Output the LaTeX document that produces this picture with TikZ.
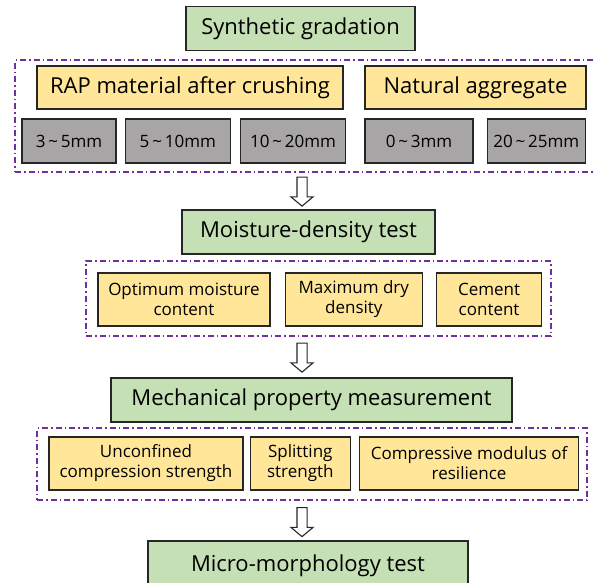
\documentclass[tikz,border=0pt]{standalone}
\usepackage{fontspec}
\setmainfont{Open Sans}
\usetikzlibrary{shapes,arrows.meta,positioning}

\definecolor{stagegreen}{HTML}{C5E0B4}
\definecolor{itemyellow}{HTML}{FFE699}
\definecolor{sizegray}{HTML}{A7A5A6}
\definecolor{groupviolet}{HTML}{7030A0}

\begin{document}
\begin{tikzpicture}[x=1pt, y=-1pt, every node/.style={inner sep=0pt, text=black}]
        \tikzstyle{stage} = [rectangle, draw=black!85, line width=1.3pt, fill=stagegreen,
            minimum height=44pt, font=\fontsize{22}{26}\selectfont]
        \tikzstyle{header} = [rectangle, draw=black!85, line width=1.3pt, fill=itemyellow,
            minimum height=43pt, font=\fontsize{22}{26}\selectfont]
        \tikzstyle{item} = [rectangle, draw=black!85, line width=1.3pt, fill=itemyellow,
            minimum height=53pt, align=center, font=\fontsize{17}{20}\selectfont]
        \tikzstyle{size} = [rectangle, draw=black!85, line width=1.3pt, fill=sizegray,
            minimum height=44pt, font=\fontsize{17}{20}\selectfont]
        \tikzstyle{group} = [rectangle, draw=groupviolet, line width=1.4pt,
            dash pattern=on 6pt off 3pt on 1.5pt off 3pt]
        \tikzstyle{hollow} = [single arrow, draw=black!85, line width=1.1pt, fill=white,
            shape border rotate=270, inner sep=4.5pt, minimum height=29pt, minimum width=21pt,
            single arrow head extend=6pt, single arrow tip angle=100]

        \useasboundingbox (0,0) rectangle (596,582);

        % synthetic gradation
        \node (synth) [stage, minimum width=229pt] at (300.5,28.5) {Synthetic gradation};
        \node (grp1) [group, minimum width=584pt, minimum height=112pt] at (307,116) {};
        \node (rap) [header, minimum width=306pt] at (190,87.5) {RAP material after crushing};
        \node (nat) [header, minimum width=221pt] at (475.5,87.5) {Natural aggregate};
        \node (s1) [size, minimum width=94pt] at (69,141) {3\,\textasciitilde\,5mm};
        \node (s2) [size, minimum width=105pt, right=8pt of s1] {5\,\textasciitilde\,10mm};
        \node (s3) [size, minimum width=105pt, right=9pt of s2] {10\,\textasciitilde\,20mm};
        \node (s4) [size, minimum width=108pt] at (419,141) {0\,\textasciitilde\,3mm};
        \node (s5) [size, minimum width=98pt, right=13pt of s4] {20\,\textasciitilde\,25mm};

        % moisture-density test
        \node (arr1) [hollow] at (302,189.5) {};
        \node (moist) [stage, minimum width=253pt] at (308.5,232) {Moisture-density test};
        \node (grp2) [group, minimum width=465pt, minimum height=75pt] at (318.5,298.5) {};
        \node (omc) [item, minimum width=172pt] at (184,299.5) {Optimum moisture\\content};
        \node (mdd) [item, minimum width=137pt, right=14pt of omc] {Maximum dry\\density};
        \node (cem) [item, minimum width=105pt, right=13pt of mdd] {Cement\\content};

        % mechanical property measurement
        \node (arr2) [hollow] at (302,355.5) {};
        \node (mech) [stage, minimum width=401pt] at (311.5,400) {Mechanical property measurement};
        \node (grp3) [group, minimum width=550pt, minimum height=72pt] at (312,464) {};
        \node (ucs) [item, minimum width=194pt] at (146,463.5) {Unconfined\\compression strength};
        \node (spl) [item, minimum width=100pt, right=6pt of ucs] {Splitting\\strength};
        \node (cmr) [item, minimum width=219pt, right=8pt of spl] {Compressive modulus of\\resilience};

        % micro-morphology test
        \node (arr3) [hollow] at (302,520) {};
        \node (micro) [stage, minimum width=320pt, minimum height=50pt] at (308,566) {Micro-morphology test};
    \end{tikzpicture}
\end{document}
